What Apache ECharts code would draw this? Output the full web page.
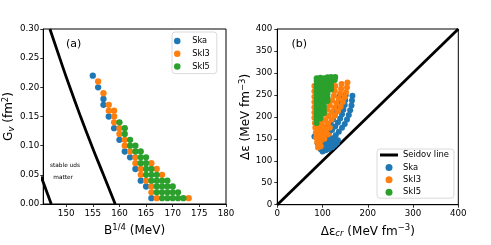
<!DOCTYPE html>
<html>
<head>
<meta charset="utf-8">
<script src="https://cdn.jsdelivr.net/npm/echarts@6/dist/echarts.min.js"></script>
<style>
html,body{margin:0;padding:0;background:#fff;}
#chart{width:491px;height:245px;}
</style>
</head>
<body>
<div id="chart"></div>
<script>
// ---------- Panel (a): Gv vs B^{1/4} ----------
const xTicksA = [150, 155, 160, 165, 170, 175, 180];
const yTicksA = [0, 0.05, 0.10, 0.15, 0.20, 0.25, 0.30];

const skaA = [[155,0.22],[156,0.20],[157,0.18],[157,0.17],[158,0.15],[159,0.13],[160,0.11],[161,0.09],[162,0.08],[163,0.06],[164,0.04],[165,0.03],[166,0.01]];
const ski3A = [[156,0.21],[157,0.19],[158,0.17],[158,0.16],[159,0.16],[159,0.15],[159,0.14],[160,0.13],[160,0.12],[161,0.11],[161,0.10],[162,0.09],[163,0.08],[163,0.07],[166,0.07],[164,0.06],[167,0.06],[164,0.05],[168,0.05],[165,0.04],[166,0.03],[166,0.02],[167,0.01],[173,0.01]];
const ski5A = [[160,0.14],[161,0.13],[161,0.12],[162,0.11],[162,0.10],[163,0.10],[163,0.09],[164,0.09],[164,0.08],[165,0.08],[164,0.07],[165,0.07],[165,0.06],[166,0.06],[165,0.05],[166,0.05],[167,0.05],[166,0.04],[167,0.04],[168,0.04],[169,0.04],[167,0.03],[168,0.03],[169,0.03],[170,0.03],[167,0.02],[168,0.02],[169,0.02],[170,0.02],[171,0.02],[168,0.01],[169,0.01],[170,0.01],[171,0.01],[172,0.01]];

const boundaryUpper = [[146.95,0.30],[148.8,0.25],[150.7,0.20],[152.7,0.15],[154.8,0.10],[157.0,0.05],[159.2,0.0]];
const boundaryLower = [[145.3,0.047],[147.2,0.0]];

// ---------- Panel (b): Δε vs Δε_cr ----------
const xTicksB = [0, 100, 200, 300, 400];
const yTicksB = [0, 50, 100, 150, 200, 250, 300, 350, 400];
const seidovLine = [[0,0],[400,400]];

const skaB = [
  [166,248],[165,237],[164,226],[161,215],[158,204],[154,194],[149,184],[143,175],[136,166],[129,158],[121,151],[113,144],[105,137],[98,131],
  [151,249],[150,238],[149,227],[146,216],[143,206],[139,196],[134,187],[128,178],[121,170],[114,163],[106,156],[99,149],
  [137,247],[136,236],[134,225],[131,214],[127,204],[123,194],[118,185],[112,177],[105,169],[98,162],
  [100,121],[107,124],[114,127],[121,131],[127,136],[132,141],[125,144],[117,138],[110,133],[103,128],[96,126],[92,132],[89,140],[82,155],
  [96,140],[104,143],[112,148],[119,149],[128,148],[134,147]
];
const ski3B = [
  [155,278],[154,267],[152,256],[149,245],[145,234],[140,223],[134,213],[127,203],[120,194],[112,185],[104,177],[96,170],
  [142,275],[141,264],[139,253],[136,242],[131,231],[126,221],[120,211],[113,202],[106,193],[98,185],
  [128,270],[127,259],[125,248],[121,237],[116,226],[110,216],[104,207],[97,198],
  [82,270],[82,258],[82,246],[82,234],[82,222],[82,210],[82,198],[83,186],[84,175],[85,164],[86,153],[88,143],[92,137],
  [92,150],[92,162],[92,175],[100,158],[100,170],[108,165],[108,175],[116,175],[96,145],[104,150],[112,160],[90,130],[96,133]
];
const ski5B = [
  [87,186],[87,194],[87,202],[87,210],[87,218],[87,226],[87,234],[87,242],[87,250],[87,258],[87,266],[87,274],[87,282],[87,288],
  [95,196],[95,204],[95,212],[95,220],[95,228],[95,236],[95,244],[95,252],[95,260],[95,268],[95,276],[95,284],[95,289],
  [103,208],[103,216],[103,224],[103,232],[103,240],[103,248],[103,256],[103,264],[103,272],[103,280],[103,288],
  [111,236],[111,244],[111,252],[111,260],[111,268],[111,276],[111,284],[111,290],
  [119,262],[119,270],[119,278],[119,286],[119,291],
  [127,284],[128,291]
];

const FONT = 'DejaVu Sans';
const C = ['#1f77b4', '#ff7f0e', '#2ca02c'];
const tickFont = {fontFamily: FONT, fontSize: 8.7, color: '#000'};
const nameRich = {
  n: {fontFamily: FONT, fontSize: 12, color: '#000'},
  sup: {fontFamily: FONT, fontSize: 8.5, color: '#000', padding: [0, 0, 7, 0]},
  sub: {fontFamily: FONT, fontSize: 8.5, color: '#000', fontStyle: 'italic', padding: [5, 0, 0, 0]}
};
function tickStyle(vals) { return {show: true, length: 3, customValues: vals, lineStyle: {color: '#000', width: 0.8}}; }
function axisLineStyle() { return {show: true, onZero: false, lineStyle: {color: '#000', width: 1}}; }

function mainAxis(extra) {
  return Object.assign({
    type: 'value',
    axisLine: axisLineStyle(),
    splitLine: {show: false},
    nameTextStyle: {fontFamily: FONT, fontSize: 12, color: '#000', rich: nameRich}
  }, extra);
}

const chart = echarts.init(document.getElementById('chart'), null, {renderer: 'canvas'});
const option = {
  animation: false,
  backgroundColor: '#fff',
  grid: [
    {left: 42.7, top: 29, width: 183.3, height: 175, show: true, borderColor: '#000', borderWidth: 1, backgroundColor: '#fff'},
    {left: 277.3, top: 29, width: 181, height: 175.7, show: true, borderColor: '#000', borderWidth: 1, backgroundColor: '#fff'}
  ],
  xAxis: [
    mainAxis({
      gridIndex: 0, min: 145.7, max: 180,
      name: '{n|B}{sup|1/4}{n| (MeV)}', nameLocation: 'middle', nameGap: 16,
      axisTick: tickStyle(xTicksA),
      axisLabel: Object.assign({margin: 5, customValues: xTicksA}, tickFont)
    }),
    mainAxis({
      gridIndex: 1, min: 0, max: 400, interval: 100,
      name: '{n|Δε}{sub|cr}{n| (MeV fm}{sup|−3}{n|)}', nameLocation: 'middle', nameGap: 16,
      axisTick: tickStyle(xTicksB),
      axisLabel: Object.assign({margin: 5, customValues: xTicksB}, tickFont)
    })
  ],
  yAxis: [
    mainAxis({
      gridIndex: 0, min: 0, max: 0.3, interval: 0.05,
      name: '{n|G}{sub|v}{n| (fm}{sup|2}{n|)}', nameLocation: 'middle', nameGap: 22,
      axisTick: tickStyle(yTicksA),
      axisLabel: Object.assign({margin: 4, customValues: yTicksA, formatter: v => Number(v).toFixed(2)}, tickFont)
    }),
    mainAxis({
      gridIndex: 1, min: 0, max: 400, interval: 50,
      name: '{n|Δε (MeV fm}{sup|−3}{n|)}', nameLocation: 'middle', nameGap: 17,
      axisTick: tickStyle(yTicksB),
      axisLabel: Object.assign({margin: 5, customValues: yTicksB}, tickFont)
    })
  ],
  legend: [
    {
      data: ['Ska', 'SkI3', 'SkI5'],
      orient: 'vertical', left: 172, top: 32,
      itemWidth: 20, itemHeight: 6.5, itemGap: 4.8, icon: 'circle',
      padding: [5, 7, 3, 2],
      borderColor: '#d0d0d0', borderWidth: 0.8, borderRadius: 3, backgroundColor: 'rgba(255,255,255,0.8)',
      textStyle: {fontFamily: FONT, fontSize: 8.2, color: '#000'},
      selectedMode: false
    },
    {
      data: [
        {name: 'Seidov line', icon: 'path://M0,0M18,7M0,2L18,2L18,5L0,5Z'},
        {name: 'Ska', icon: 'circle'}, {name: 'SkI3', icon: 'circle'}, {name: 'SkI5', icon: 'circle'}
      ],
      orient: 'vertical', left: 377, top: 149,
      itemWidth: 18, itemHeight: 7, itemGap: 4.4,
      padding: [2, 5, 2, 3],
      borderColor: '#d0d0d0', borderWidth: 0.8, borderRadius: 3, backgroundColor: 'rgba(255,255,255,0.8)',
      textStyle: {fontFamily: FONT, fontSize: 8.4, color: '#000'},
      selectedMode: false
    }
  ],
  graphic: [
    {type: 'text', left: 66, top: 39, style: {text: '(a)', font: '11px "DejaVu Sans"', fill: '#000'}},
    {type: 'text', left: 291.5, top: 39, style: {text: '(b)', font: '11px "DejaVu Sans"', fill: '#000'}},
    {type: 'text', left: 50, top: 162.5, style: {text: 'stable uds', font: '5.8px "DejaVu Sans"', fill: '#000'}},
    {type: 'text', left: 53.3, top: 174.5, style: {text: 'matter', font: '5.8px "DejaVu Sans"', fill: '#000'}}
  ],
  series: [
    {type: 'line', name: 'boundary', xAxisIndex: 0, yAxisIndex: 0, data: boundaryUpper, showSymbol: false, symbol: 'none', smooth: true, clip: true, lineStyle: {color: '#000', width: 2.8}, z: 3},
    {type: 'line', name: 'boundary2', xAxisIndex: 0, yAxisIndex: 0, data: boundaryLower, showSymbol: false, symbol: 'none', clip: true, lineStyle: {color: '#000', width: 2.8}, z: 3},
    {type: 'scatter', name: 'Ska', xAxisIndex: 0, yAxisIndex: 0, data: skaA, symbolSize: 6.3, itemStyle: {color: C[0], opacity: 1}, z: 4},
    {type: 'scatter', name: 'SkI3', xAxisIndex: 0, yAxisIndex: 0, data: ski3A, symbolSize: 6.3, itemStyle: {color: C[1], opacity: 1}, z: 4},
    {type: 'scatter', name: 'SkI5', xAxisIndex: 0, yAxisIndex: 0, data: ski5A, symbolSize: 6.3, itemStyle: {color: C[2], opacity: 1}, z: 4},

    {type: 'line', name: 'Seidov line', xAxisIndex: 1, yAxisIndex: 1, data: seidovLine, showSymbol: false, symbol: 'none', clip: true, lineStyle: {color: '#000', width: 2.8}, itemStyle: {color: '#000', borderWidth: 0}, z: 3},
    {type: 'scatter', name: 'Ska', xAxisIndex: 1, yAxisIndex: 1, data: skaB, symbolSize: 6, itemStyle: {color: C[0], opacity: 1}, z: 4},
    {type: 'scatter', name: 'SkI3', xAxisIndex: 1, yAxisIndex: 1, data: ski3B, symbolSize: 6, itemStyle: {color: C[1], opacity: 1}, z: 4},
    {type: 'scatter', name: 'SkI5', xAxisIndex: 1, yAxisIndex: 1, data: ski5B, symbolSize: 6, itemStyle: {color: C[2], opacity: 1}, z: 4}
  ]
};
chart.setOption(option);
</script>
</body>
</html>
